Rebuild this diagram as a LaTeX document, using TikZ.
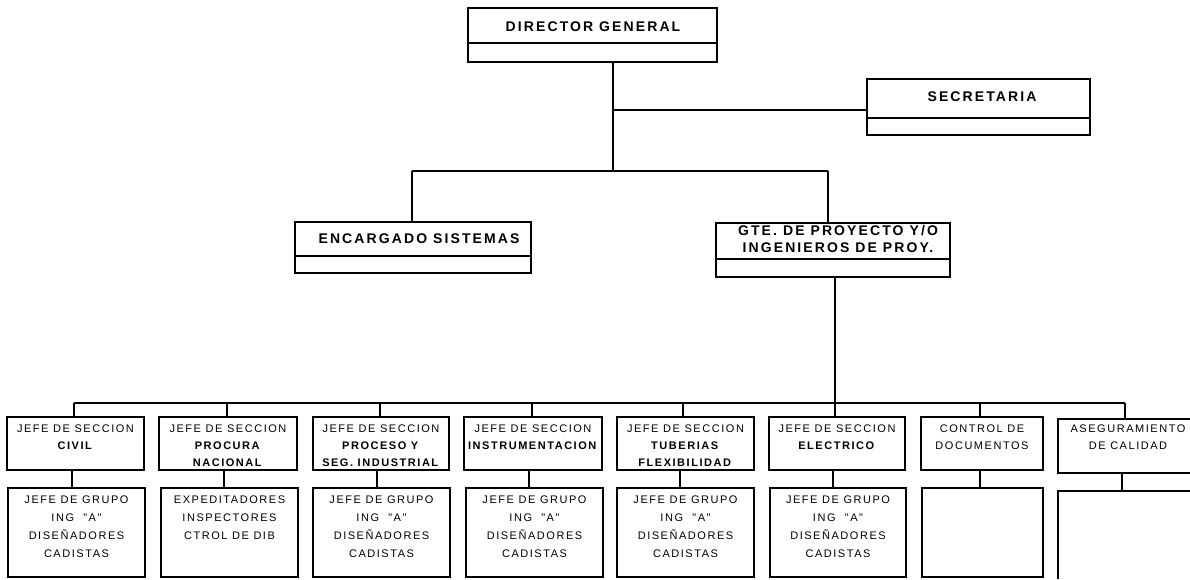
\documentclass[tikz,border=0pt]{standalone}
\usepackage{fontspec}
\setmainfont{Liberation Sans}
\newfontfamily\hdfont[LetterSpace=15]{Liberation Sans}
\newfontfamily\rwfont[LetterSpace=14]{Liberation Sans}
\newcommand\mkbox[5]{\node[box, minimum width={(#4-#2)*1pt}, minimum height={(#5-#3)*1pt}] (#1) at (#2,#3) {};}
\begin{document}
\begin{tikzpicture}[x=1pt,y=-1pt,
  box/.style={draw, rectangle, line width=1.2pt, inner sep=0pt, outer sep=0pt, anchor=north west},
  lbl/.style={inner sep=0pt, anchor=north, align=center},
  hd/.style={lbl, font={\hdfont\bfseries\fontsize{14}{17}\selectfont}},
  rw/.style={lbl, font={\rwfont\fontsize{11}{17}\selectfont}},
  rwb/.style={lbl, font={\rwfont\fontsize{11}{18}\selectfont}},
  conn/.style={line width=2.3pt},
  sepline/.style={line width=1.2pt}]
\useasboundingbox[fill=white] (0,0) rectangle (1190,579);

% top level boxes
\mkbox{dir}{468}{8}{717}{62}
\mkbox{sec}{867}{79}{1090}{135}
\mkbox{enc}{295}{222}{531}{273}
\mkbox{gte}{716}{223}{950}{277}
\draw[sepline] (dir.west |- 0,43) -- (dir.east |- 0,43);
\draw[sepline] (sec.west |- 0,118) -- (sec.east |- 0,118);
\draw[sepline] (enc.west |- 0,256) -- (enc.east |- 0,256);
\draw[sepline] (gte.west |- 0,259) -- (gte.east |- 0,259);

\node[hd] (tdir) at (593,22) {DIRECTOR GENERAL};
\node[hd] (tsec) at (982,92) {SECRETARIA};
\node[hd] (tenc) at (419,234) {ENCARGADO SISTEMAS};
\node[hd] (tgte) at (838,225) {GTE. DE PROYECTO Y/O\\INGENIEROS DE PROY.};

% row 1 boxes
\mkbox{s1}{7}{417}{144}{470}
\mkbox{s2}{159}{417}{297}{470}
\mkbox{s3}{313}{417}{449}{470}
\mkbox{s4}{464}{417}{602}{470}
\mkbox{s5}{617}{417}{754}{470}
\mkbox{s6}{769}{417}{905}{470}
\mkbox{s7}{921}{417}{1043}{470}
% row 2 boxes
\mkbox{g1}{8}{488}{145}{577}
\mkbox{g2}{161}{488}{298}{577}
\mkbox{g3}{313}{488}{450}{577}
\mkbox{g4}{466}{488}{603}{577}
\mkbox{g5}{617}{488}{754}{577}
\mkbox{g6}{770}{488}{906}{577}
\mkbox{g7}{922}{488}{1043}{577}
% column 8 (cut by the right edge)
\coordinate (a8) at (1058,419);
\coordinate (b8) at (1058,491);
\draw[line width=1.2pt] (1190,419) -- (a8) -- (1058,473) -- (1190,473);
\draw[line width=1.2pt] (1190,491) -- (b8) -- (1058,579);

% connectors
\coordinate (j1) at (613,171);
\coordinate (j2) at (613,110);
\coordinate (eL) at (412,171);
\coordinate (eR) at (828,171);
\draw[conn] (dir.south -| j1) -- (j1);
\draw[conn] (j2) -- (sec.west |- j2);
\draw[conn] (eL) -- (eR);
\draw[conn] (eL) -- (enc.north -| eL);
\draw[conn] (eR) -- (gte.north -| eR);
\coordinate (busL) at (74,403);
\coordinate (busR) at (1125,403);
\draw[conn] (busL) -- (busR);
\draw[conn] (gte.south -| 835,0) -- (s6.north -| 835,0);
\foreach \i/\x in {1/74,2/227,3/380,4/532,5/683,7/980}
  \draw[conn] (busL -| \x,0) -- (s\i.north -| \x,0);
\draw[conn] (busR) -- (a8 -| busR);
\foreach \i/\x in {1/72,2/224,3/377,4/529,5/680,6/833,7/980}
  \draw[conn] (s\i.south -| \x,0) -- (g\i.north -| \x,0);
\draw[conn] (1122,473) -- (b8 -| 1122,0);

% row 1 texts
\node[rw] (l1) at (s1.north |- 0,425) {JEFE DE SECCION\\\textbf{CIVIL}};
\node[rw] (l2) at (s2.north |- 0,425) {JEFE DE SECCION\\\textbf{PROCURA}\\\textbf{NACIONAL}};
\node[rw] (l3) at (s3.north |- 0,425) {JEFE DE SECCION\\\textbf{PROCESO Y}\\\textbf{SEG. INDUSTRIAL}};
\node[rw] (l4) at (s4.north |- 0,425) {JEFE DE SECCION\\\textbf{INSTRUMENTACION}};
\node[rw] (l5) at (s5.north |- 0,425) {JEFE DE SECCION\\\textbf{TUBERIAS}\\\textbf{FLEXIBILIDAD}};
\node[rw] (l6) at (s6.north |- 0,425) {JEFE DE SECCION\\\textbf{ELECTRICO}};
\node[rw] (l7) at (s7.north |- 0,425) {CONTROL DE\\DOCUMENTOS};
\node[rw] (l8) at (1128,425) {ASEGURAMIENTO\\DE CALIDAD};

% row 2 texts
\node[rwb] (m1) at (g1.north |- 0,496) {JEFE DE GRUPO\\ING\ \ "A"\\DISEÑADORES\\CADISTAS};
\node[rwb] (m2) at (g2.north |- 0,496) {EXPEDITADORES\\INSPECTORES\\CTROL DE DIB};
\node[rwb] (m3) at (g3.north |- 0,496) {JEFE DE GRUPO\\ING\ \ "A"\\DISEÑADORES\\CADISTAS};
\node[rwb] (m4) at (g4.north |- 0,496) {JEFE DE GRUPO\\ING\ \ "A"\\DISEÑADORES\\CADISTAS};
\node[rwb] (m5) at (g5.north |- 0,496) {JEFE DE GRUPO\\ING\ \ "A"\\DISEÑADORES\\CADISTAS};
\node[rwb] (m6) at (g6.north |- 0,496) {JEFE DE GRUPO\\ING\ \ "A"\\DISEÑADORES\\CADISTAS};
\end{tikzpicture}
\end{document}
